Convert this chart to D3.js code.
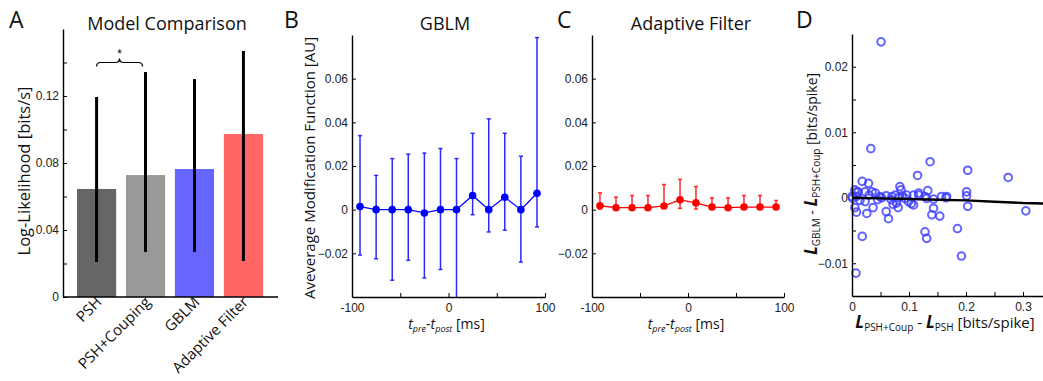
<!DOCTYPE html>
<html>
<head>
<meta charset="utf-8">
<script src="https://cdn.jsdelivr.net/npm/d3@7"></script>
<style>
  body { margin: 0; background: #fff; }
  svg { display: block; }
  .tick text { font-family: "Liberation Sans", Arial, sans-serif; font-size: 12px; fill: #222; }
  .lbl { font-family: "Open Sans", sans-serif; fill: #111; }
</style>
</head>
<body>
<script>
// Panel A: model comparison
const models = ["PSH", "PSH+Couping", "GBLM", "Adaptive Filter"];
const llMean = [0.0645, 0.0728, 0.0764, 0.0973];
const llUpper = [0.1194, 0.1343, 0.1301, 0.1469];
const llLower = [0.0209, 0.0269, 0.0269, 0.0215];
const modelColors = ["#666666", "#999999", "#6666ff", "#ff6666"];
const aTicks = [0, 0.02, 0.04, 0.06, 0.08, 0.10, 0.12, 0.14];
const aTickLabels = ["0", "", "0.04", "", "0.08", "", "0.12", ""];

// Panels B and C: average modification function
const lagTimes = [-91.7, -75, -58.3, -41.7, -25, -8.3, 8.3, 25, 41.7, 58.3, 75, 91.7];
const gblmMean = [0.0014, 0, 0, 0, -0.0015, 0, 0, 0.0065, 0, 0.0057, 0, 0.0075];
const gblmUpper = [0.0339, 0.0157, 0.0234, 0.0254, 0.0259, 0.0280, 0.0234, 0.0350, 0.0416, 0.0350, 0.0245, 0.0788];
const gblmLower = [-0.0208, -0.0225, -0.0323, -0.0232, -0.0313, -0.0274, -0.045, -0.0023, -0.0102, -0.0094, -0.0240, -0.0079];
const afMean = [0.0018, 0.0009, 0.0009, 0.0009, 0.0017, 0.0045, 0.0031, 0.0012, 0.0009, 0.0012, 0.0012, 0.0012];
const afUpper = [0.0077, 0.0057, 0.0065, 0.0065, 0.0115, 0.0139, 0.0106, 0.0054, 0.0054, 0.0065, 0.0065, 0.0042];
const afLower = [0.0003, 0.0006, 0.0003, 0.0003, 0.0006, 0.0006, 0.0003, 0.0003, 0.0003, 0.0003, 0.0003, 0.0003];
const lagTicks = [-100, -50, 0, 50, 100];
const lagTickLabels = ["-100", "", "0", "", "100"];
const amfTicks = [-0.02, 0, 0.02, 0.04, 0.06];
const amfTickLabels = ["\u22120.02", "0", "0.02", "0.04", "0.06"];

// Panel D: per-neuron likelihood gains
const couplingGain = [0.051, 0.033, 0.137, 0.115, 0.203, 0.274, 0.018, 0.029, 0.084, 0.086,
  0.133, 0.201, 0.008, 0.011, 0.023, 0.035, 0.041, 0.005, 0.001, 0.000,
  0.008, 0.005, 0.008, 0.018, 0.007, 0.026, 0.023, 0.037, 0.049, 0.052,
  0.060, 0.064, 0.069, 0.070, 0.076, 0.078, 0.081, 0.082, 0.096, 0.099,
  0.104, 0.108, 0.108, 0.117, 0.117, 0.128, 0.128, 0.131, 0.131, 0.140,
  0.143, 0.143, 0.154, 0.157, 0.166, 0.185, 0.192, 0.201, 0.203, 0.305,
  0.088, 0.060, 0.045, 0.030, 0.014, 0.093, 0.072, 0.165];
const gblmGain = [0.0238, 0.0075, 0.0055, 0.0034, 0.0042, 0.0031, 0.0025, 0.0022, 0.0017, 0.0012,
  0.0011, 0.0009, 0.0009, 0.0009, 0.0009, 0.0009, 0.0007, 0.0012, -0.0001, 0.0002,
  0.0002, -0.0015, -0.0022, -0.0059, -0.0115, -0.0024, -0.0006, -0.0015, 0.0002, 0.0,
  -0.0021, -0.0032, -0.0003, 0.0002, 0.0004, -0.0008, -0.0015, 0.0, 0.0004, -0.0006,
  -0.0009, -0.0011, 0.0004, 0.0004, 0.0007, 0.0002, -0.0052, -0.0062, -0.0001, -0.0026,
  -0.0016, -0.0002, -0.0028, 0.0002, 0.0002, -0.0047, -0.0089, 0.0003, -0.0013, -0.0020,
  0.0003, 0.0003, -0.0003, 0.0004, -0.0004, -0.0001, -0.0010, 0.0];
const trendX = [0, 0.05, 0.1, 0.15, 0.2, 0.25, 0.3, 0.35];
const trendY = [0, -0.0001, -0.0002, -0.0003, -0.0004, -0.0006, -0.0008, -0.0009];
const dxTicks = [0, 0.05, 0.1, 0.15, 0.2, 0.25, 0.3];
const dxTickLabels = ["0", "", "0.1", "", "0.2", "", "0.3"];
const dyTicks = [-0.01, -0.005, 0, 0.005, 0.01, 0.015, 0.02];
const dyTickLabels = ["\u22120.01", "", "0", "", "0.01", "", "0.02"];

const svg = d3.select("body").append("svg")
    .attr("width", 1043)
    .attr("height", 381);

function styleAxis(g) {
    g.select(".domain").attr("stroke", "#000").attr("stroke-width", 1.4);
    g.selectAll(".tick line").attr("stroke", "#000").attr("stroke-width", 1);
}

function label(x, y, text, size, opts) {
    opts = opts || {};
    return svg.append("text")
        .attr("class", "lbl")
        .attr("x", x)
        .attr("y", y)
        .attr("text-anchor", opts.anchor || "middle")
        .attr("transform", opts.rotate ? `rotate(${opts.rotate}, ${x}, ${y})` : null)
        .style("font-size", size + "px")
        .text(text);
}

// ---------- A ----------
let aX = d3.scaleBand().domain(models).range([77, 263]).paddingInner(0.2);
let aY = d3.scaleLinear().domain([0, 0.16]).range([297, 29]);

svg.append("g")
    .selectAll("rect")
    .data(models)
    .enter()
    .append("rect")
    .attr("x", d => aX(d))
    .attr("y", (d, i) => aY(llMean[i]))
    .attr("width", aX.bandwidth())
    .attr("height", (d, i) => aY(0) - aY(llMean[i]))
    .attr("fill", (d, i) => modelColors[i]);

svg.append("g")
    .selectAll("line")
    .data(models)
    .enter()
    .append("line")
    .attr("x1", d => aX(d) + aX.bandwidth() / 2)
    .attr("x2", d => aX(d) + aX.bandwidth() / 2)
    .attr("y1", (d, i) => aY(llLower[i]))
    .attr("y2", (d, i) => aY(llUpper[i]))
    .attr("stroke", "#000")
    .attr("stroke-width", 3);

svg.append("g")
    .attr("transform", "translate(63, 0)")
    .call(d3.axisLeft(aY).tickValues(aTicks).tickFormat((d, i) => aTickLabels[i]).tickSizeInner(-4).tickSizeOuter(0).tickPadding(4))
    .call(styleAxis);

svg.append("line")
    .attr("x1", 63).attr("x2", 278)
    .attr("y1", aY(0)).attr("y2", aY(0))
    .attr("stroke", "#000").attr("stroke-width", 1.4);

models.forEach((m, i) => {
    let cx = aX(m) + aX.bandwidth() / 2 + 6;
    label(cx, 303, m, 15, {anchor: "end", rotate: -45});
});

// significance brace between PSH and PSH+Couping
(function () {
    let x1 = aX(models[0]) + aX.bandwidth() / 2;
    let x2 = aX(models[1]) + aX.bandwidth() / 2 - 3;
    let xm = (x1 + x2) / 2;
    let y = aY(0.14);
    let p = d3.path();
    p.moveTo(x1, y + 4);
    p.quadraticCurveTo(x1, y, x1 + 4, y);
    p.lineTo(xm - 4, y);
    p.quadraticCurveTo(xm, y, xm, y - 4);
    p.quadraticCurveTo(xm, y, xm + 4, y);
    p.lineTo(x2 - 4, y);
    p.quadraticCurveTo(x2, y, x2, y + 4);
    svg.append("path").attr("d", p.toString()).attr("fill", "none").attr("stroke", "#000").attr("stroke-width", 1.2);
    svg.append("text").attr("x", xm).attr("y", y - 5).attr("text-anchor", "middle")
        .style("font-family", "Liberation Sans, Arial, sans-serif").style("font-size", "12px").text("*");
})();

label(30, 171, "Log-Likelihood [bits/s]", 16.5, {rotate: -90});
label(167, 30, "Model Comparison", 18);
label(9, 28, "A", 23, {anchor: "start"});

// ---------- B and C ----------
function modPanel(x0, x1, mean, upper, lower, lineColor, barColor) {
    let x = d3.scaleLinear().domain([-100, 100]).range([x0, x1]);
    let y = d3.scaleLinear().domain([-0.04, 0.08]).range([297, 35]);
    let g = svg.append("g");
    let bot = y.domain()[0];

    g.selectAll(".err")
        .data(lagTimes)
        .enter()
        .append("line")
        .attr("x1", d => x(d)).attr("x2", d => x(d))
        .attr("y1", (d, i) => y(Math.max(lower[i], bot)))
        .attr("y2", (d, i) => y(upper[i]))
        .attr("stroke", barColor).attr("stroke-width", 1.5);

    g.selectAll(".capTop")
        .data(lagTimes)
        .enter()
        .append("line")
        .attr("x1", d => x(d) - 2).attr("x2", d => x(d) + 2)
        .attr("y1", (d, i) => y(upper[i])).attr("y2", (d, i) => y(upper[i]))
        .attr("stroke", barColor).attr("stroke-width", 1.5);

    g.selectAll(".capBot")
        .data(lagTimes.filter((d, i) => lower[i] >= bot))
        .enter()
        .append("line")
        .attr("x1", d => x(d) - 2).attr("x2", d => x(d) + 2)
        .attr("y1", d => y(lower[lagTimes.indexOf(d)])).attr("y2", d => y(lower[lagTimes.indexOf(d)]))
        .attr("stroke", barColor).attr("stroke-width", 1.5);

    let line = d3.line()
        .x((d, i) => x(d))
        .y((d, i) => y(mean[i]));

    g.append("path")
        .datum(lagTimes)
        .attr("d", line)
        .attr("fill", "none")
        .attr("stroke", lineColor)
        .attr("stroke-width", 1.3);

    g.selectAll("circle")
        .data(lagTimes)
        .enter()
        .append("circle")
        .attr("cx", d => x(d))
        .attr("cy", (d, i) => y(mean[i]))
        .attr("r", 3.8)
        .attr("fill", lineColor);

    svg.append("g")
        .attr("transform", `translate(${x0}, 0)`)
        .call(d3.axisLeft(y).tickValues(amfTicks).tickFormat((d, i) => amfTickLabels[i]).tickSizeInner(-4).tickSizeOuter(0).tickPadding(4))
        .call(styleAxis);

    svg.append("g")
        .attr("transform", "translate(0, 297)")
        .call(d3.axisBottom(x).tickValues(lagTicks).tickFormat((d, i) => lagTickLabels[i]).tickSizeInner(-4).tickSizeOuter(0).tickPadding(6))
        .call(styleAxis);

    // t_pre - t_post [ms]
    let cx = (x0 + x1) / 2 - 2;
    let t = svg.append("text").attr("class", "lbl").attr("x", cx).attr("y", 329)
        .attr("text-anchor", "middle").style("font-size", "14px");
    t.append("tspan").style("font-style", "italic").text("t");
    t.append("tspan").style("font-style", "italic").style("font-size", "9px").attr("dy", 3).text("pre");
    t.append("tspan").attr("dy", -3).text("-");
    t.append("tspan").style("font-style", "italic").text("t");
    t.append("tspan").style("font-style", "italic").style("font-size", "9px").attr("dy", 3).text("post");
    t.append("tspan").attr("dy", -3).text(" [ms]");
}

modPanel(352, 545, gblmMean, gblmUpper, gblmLower, "#0000ff", "#2a2aff");
modPanel(592, 784, afMean, afUpper, afLower, "#ff0000", "#ff2a2a");

label(315, 168, "Aveverage Modification Function [AU]", 15, {rotate: -90});
label(445, 30, "GBLM", 18);
label(691, 30, "Adaptive Filter", 18);
label(284, 28, "B", 23, {anchor: "start"});
label(557, 28, "C", 23, {anchor: "start"});

// ---------- D ----------
let dX = d3.scaleLinear().domain([0, 0.35]).range([852, 1051.5]);
let dY = d3.scaleLinear().domain([-0.015, 0.025]).range([296, 34]);

svg.append("g")
    .selectAll("circle")
    .data(couplingGain)
    .enter()
    .append("circle")
    .attr("cx", d => dX(d))
    .attr("cy", (d, i) => dY(gblmGain[i]))
    .attr("r", 3.8)
    .attr("fill", "none")
    .attr("stroke", "#3c3cff")
    .attr("stroke-opacity", 0.8)
    .attr("stroke-width", 2);

svg.append("path")
    .datum(trendX)
    .attr("d", d3.line().x(d => dX(d)).y((d, i) => dY(trendY[i])))
    .attr("fill", "none")
    .attr("stroke", "#000")
    .attr("stroke-width", 2.4);

svg.append("g")
    .attr("transform", "translate(852, 0)")
    .call(d3.axisLeft(dY).tickValues(dyTicks).tickFormat((d, i) => dyTickLabels[i]).tickSizeInner(-4).tickSizeOuter(0).tickPadding(4))
    .call(styleAxis);

svg.append("g")
    .attr("transform", "translate(0, 296)")
    .call(d3.axisBottom(dX).tickValues(dxTicks).tickFormat((d, i) => dxTickLabels[i]).tickSizeInner(-4).tickSizeOuter(0).tickPadding(6))
    .call(styleAxis);

label(796, 28, "D", 23, {anchor: "start"});

(function () {
    let t = svg.append("text").attr("class", "lbl").attr("x", 945).attr("y", 328)
        .attr("text-anchor", "middle").style("font-size", "15px");
    t.append("tspan").style("font-weight", "bold").style("font-style", "italic").style("font-size", "17px").text("L");
    t.append("tspan").style("font-size", "10px").attr("dy", 3).text("PSH+Coup");
    t.append("tspan").attr("dy", -3).text(" - ");
    t.append("tspan").style("font-weight", "bold").style("font-style", "italic").style("font-size", "17px").text("L");
    t.append("tspan").style("font-size", "10px").attr("dy", 3).text("PSH");
    t.append("tspan").attr("dy", -3).text(" [bits/spike]");

    let u = svg.append("text").attr("class", "lbl").attr("x", 817).attr("y", 164)
        .attr("text-anchor", "middle").attr("transform", "rotate(-90, 817, 164)").style("font-size", "14px");
    u.append("tspan").style("font-weight", "bold").style("font-style", "italic").style("font-size", "17px").text("L");
    u.append("tspan").style("font-size", "10px").attr("dy", 3).text("GBLM");
    u.append("tspan").attr("dy", -3).text(" - ");
    u.append("tspan").style("font-weight", "bold").style("font-style", "italic").style("font-size", "17px").text("L");
    u.append("tspan").style("font-size", "10px").attr("dy", 3).text("PSH+Coup");
    u.append("tspan").attr("dy", -3).text(" [bits/spike]");
})();
</script>
</body>
</html>
